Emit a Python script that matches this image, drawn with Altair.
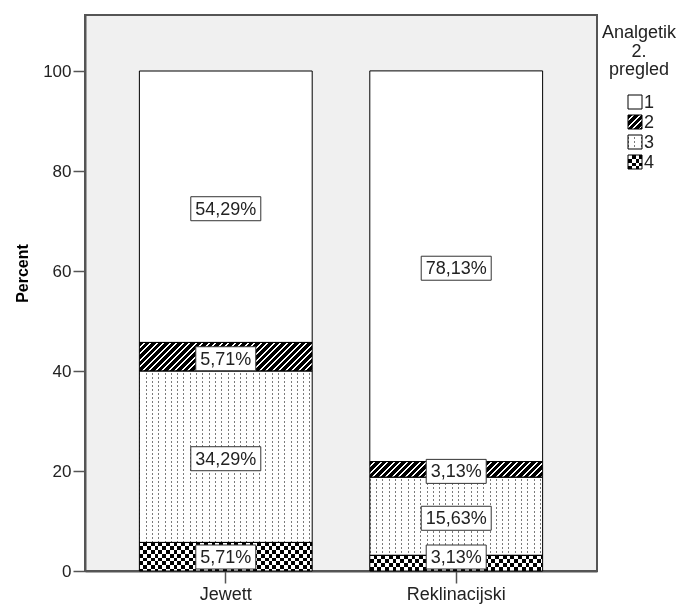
import altair as alt
import pandas as pd

# ---------------- data ----------------
groups = ["Jewett", "Reklinacijski"]
categories = ["1", "2", "3", "4"]
pct_jewett = [54.29, 5.71, 34.29, 5.71]
pct_reklinacijski = [78.13, 3.13, 15.63, 3.13]
y_ticks = [0, 20, 40, 60, 80, 100]
y_max = 111.2
y_title = "Percent"
legend_title = ["Analgetik", "2.", "pregled"]

rows = []
for g, vals in zip(groups, [pct_jewett, pct_reklinacijski]):
    for c, v in zip(categories, vals):
        rows.append({"group": g, "cat": c, "value": v,
                     "label": f"{v:.2f}".replace(".", ",") + "%"})
df = pd.DataFrame(rows)
values_by_group = dict(zip(groups, [pct_jewett, pct_reklinacijski]))

# ---------------- layout / style ----------------
FONT = "Liberation Sans"
TXT = "#222222"
FRAME = "#555555"
PLOT_W, PLOT_H = 512, 556
P_IN, P_OUT = 0.25, 0.236
step = PLOT_W / (len(groups) - P_IN + 2 * P_OUT)
BAR_W = step * (1 - P_IN)
PX = PLOT_H / y_max


def stripe_stops(total, period, on, c_on, c_off):
    stops = []
    pos = 0.0
    while pos < total - 1e-9:
        a = pos / total
        b = min(pos + on, total) / total
        e = min(pos + period, total) / total
        stops += [(a, c_on), (b, c_on), (b, c_off), (e, c_off)]
        pos += period
    return [alt.GradientStop(offset=round(o, 5), color=c) for o, c in stops]


def grad(stops, x2, y2):
    return alt.LinearGradient(gradient="linear", stops=stops,
                              x1=0, y1=0, x2=x2, y2=y2)


def along_x(w, period, on, c_on, c_off):
    return grad(stripe_stops(w, period, on, c_on, c_off), 1, 0)


def along_y(h, period, on, c_on, c_off):
    return grad(stripe_stops(h, period, on, c_on, c_off), 0, 1)


def diagonal(w, h, period, on, c_on, c_off):
    r = h / w
    dx = (1 + r) / (1 + r * r)
    return grad(stripe_stops(w + h, period, on, c_on, c_off), dx, r * dx)


# pattern definitions (size-dependent gradients)
DOT_COL, DOT_PER = 6.3, 4.0
HATCH_PER, HATCH_ON = 6.5, 4.6
CHK = 3.8


def fills_for(cat, w, h):
    """list of (fill, blend) painted in order for a pattern of size w x h px"""
    if cat == "1":
        return [("white", None)]
    if cat == "2":
        return [(diagonal(w, h, HATCH_PER, HATCH_ON, "black", "white"), None)]
    if cat == "3":
        return [(along_x(w, DOT_COL, 1.0, "#7a7a7a", "white"), None),
                (along_y(h, DOT_PER, DOT_PER / 2, "white", "black"), "lighten")]
    return [(along_x(w, 2 * CHK, CHK, "black", "white"), None),
            (along_y(h, 2 * CHK, CHK, "white", "black"), "difference")]


# ---------------- main chart ----------------
x_enc = alt.X("group:N",
              scale=alt.Scale(domain=groups, paddingInner=P_IN, paddingOuter=P_OUT),
              axis=alt.Axis(title=None, labelAngle=0, labelFontSize=18, labelColor=TXT,
                            labelFont=FONT, tickSize=12, tickColor=FRAME, tickWidth=1.5,
                            domainColor=FRAME, domainWidth=2, labelPadding=2))
y_enc = alt.Y("y0:Q",
              scale=alt.Scale(domain=[0, y_max], nice=False, zero=True),
              axis=alt.Axis(values=y_ticks, title=y_title, titleFontWeight="bold",
                            titleFontSize=16, titleColor="#000000", titleFont=FONT,
                            labelFontSize=17, labelColor=TXT, labelFont=FONT,
                            tickSize=12, tickColor=FRAME, tickWidth=1.5,
                            domainColor=FRAME, domainWidth=2, grid=False,
                            labelPadding=2, titlePadding=12, titleY=258))
y2_enc = alt.Y2("y1:Q")

base = (alt.Chart(df)
        .transform_stack(stack="value", as_=["y0", "y1"], groupby=["group"],
                         sort=[alt.SortField("cat", order="descending")])
        .transform_calculate(mid="max((datum.y0 + datum.y1) / 2, 3.2)"))


def seg_layer(cats, grp, fill, blend):
    flt = alt.FieldOneOfPredicate(field="cat", oneOf=cats)
    ch = base.transform_filter(flt)
    if grp is not None:
        ch = ch.transform_filter(alt.FieldEqualPredicate(field="group", equal=grp))
    kw = dict(fill=fill, strokeWidth=0)
    if blend:
        kw["blend"] = blend
    return ch.mark_bar(**kw).encode(x=x_enc, y=y_enc, y2=y2_enc)


layers = []
for cat_i, cat in enumerate(categories):
    for grp in groups:
        h = values_by_group[grp][cat_i] * PX
        for fill, blend in fills_for(cat, BAR_W, h):
            layers.append(seg_layer([cat], grp, fill, blend))

outline = base.mark_bar(fill="transparent", stroke="black", strokeWidth=1).encode(
    x=x_enc, y=y_enc, y2=y2_enc)

box_long = "M-35,-12H35V12H-35Z"
box_short = "M-30,-12H30V12H-30Z"
boxes = base.mark_point(filled=True, fill="white", stroke="#333333", strokeWidth=1,
                        size=4, opacity=1, yOffset=2).encode(
    x=x_enc,
    y=alt.Y("mid:Q"),
    shape=alt.condition("length(datum.label) > 5", alt.value(box_long), alt.value(box_short)))

texts = base.mark_text(fontSize=18, font=FONT, color=TXT, baseline="middle",
                       align="center", yOffset=3).encode(
    x=x_enc, y=alt.Y("mid:Q"), text="label:N")

main = alt.layer(*layers, outline, boxes, texts).properties(
    width=PLOT_W, height=PLOT_H,
    view=alt.ViewBackground(fill="#f0f0f0", stroke=FRAME, strokeWidth=2))

# ---------------- legend panel ----------------
LW = 78
SYM = 14
leg_df = pd.DataFrame({"cat": categories})
leg_y = alt.Y("cat:O", scale=alt.Scale(domain=categories, range=[87, 147], padding=0),
              axis=None)
leg_base = alt.Chart(leg_df)
leg_layers = []
for cat in categories:
    for fill, blend in fills_for(cat, SYM, SYM):
        kw = dict(filled=True, fill=fill, size=SYM * SYM, strokeWidth=0, opacity=1)
        if blend:
            kw["blend"] = blend
        leg_layers.append(
            leg_base.transform_filter(alt.FieldEqualPredicate(field="cat", equal=cat))
            .mark_square(**kw).encode(x=alt.value(35), y=leg_y))
leg_outline = leg_base.mark_square(filled=False, stroke="black", strokeWidth=1,
                                   size=SYM * SYM, opacity=1).encode(
    x=alt.value(35), y=leg_y)
leg_labels = leg_base.mark_text(align="left", baseline="middle", fontSize=18, font=FONT,
                                color=TXT, dy=1).encode(
    x=alt.value(44), y=leg_y, text="cat:N")
leg_title = alt.Chart(pd.DataFrame({"t": ["\n".join(legend_title)]})).mark_text(
    lineBreak="\n", lineHeight=18.5, fontSize=18, font=FONT, color=TXT,
    align="center", baseline="top").encode(
    x=alt.value(LW / 2), y=alt.value(9), text="t:N")

legend = alt.layer(*leg_layers, leg_outline, leg_labels, leg_title).properties(
    width=LW, height=PLOT_H,
    view=alt.ViewBackground(fill="white", stroke="transparent", strokeWidth=0))

chart = (alt.hconcat(main, legend, spacing=2)
         .properties(padding={"left": 5, "top": 6, "right": 0, "bottom": 0},
                     background="white")
         .configure(font=FONT))

chart.save("out.html", embed_options={"renderer": "svg", "actions": False})
